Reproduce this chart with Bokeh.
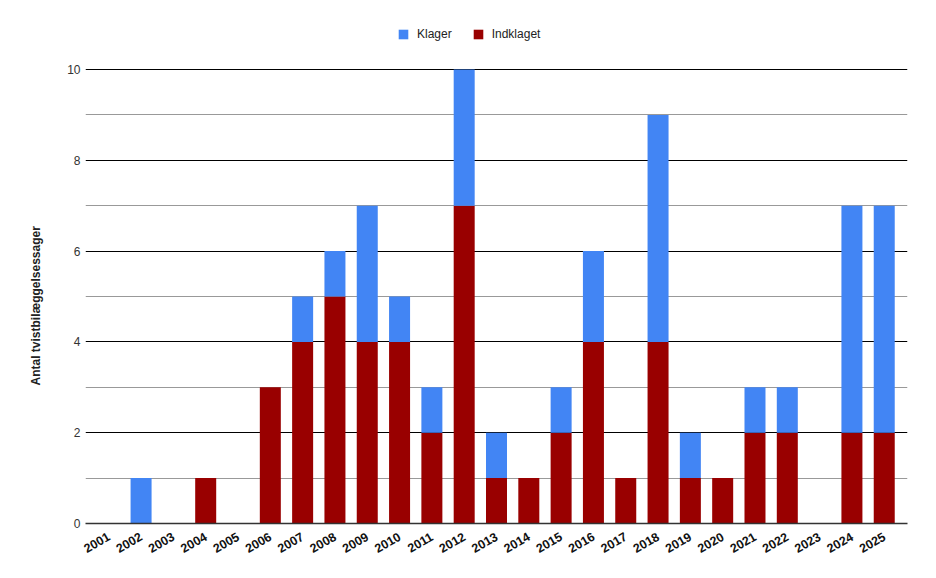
import math
from bokeh.plotting import figure
from bokeh.models import ColumnDataSource, FixedTicker, Grid, Legend, LegendItem, Range1d, Title
from bokeh.embed import file_html
from bokeh.resources import INLINE

years = [str(y) for y in range(2001, 2026)]
indklaget = [0, 0, 0, 1, 0, 3, 4, 5, 4, 4, 2, 7, 1, 1, 2, 4, 1, 4, 1, 1, 2, 2, 0, 2, 2]
klager = [0, 1, 0, 0, 0, 0, 1, 1, 3, 1, 1, 3, 1, 0, 1, 2, 0, 5, 1, 0, 1, 1, 0, 5, 5]
series = ["Indklaget", "Klager"]
colors = ["#990000", "#4285F4"]
y_major = [2, 4, 6, 8, 10]
y_minor = [1, 3, 5, 7, 9]

src = ColumnDataSource(dict(year=years, Indklaget=indklaget, Klager=klager))

# frame extends above the 10-line to leave room for the legend inside it
p = figure(x_range=years, y_range=Range1d(0, 11.08), width=936, height=578,
           output_backend="svg", toolbar_location=None,
           min_border_left=85, min_border_right=29, min_border_top=20, min_border_bottom=55)
p.outline_line_color = None
p.x_range.range_padding = 0.22
p.x_range.range_padding_units = "absolute"

r = p.vbar_stack(series, x="year", width=0.65, color=colors, line_color=None, source=src)

# axes
p.xaxis.major_label_orientation = math.pi / 6
p.xaxis.major_label_text_font = "Liberation Sans"
p.xaxis.major_label_text_font_style = "bold"
p.xaxis.major_label_text_font_size = "12.5px"
p.xaxis.major_label_text_color = "#111111"
p.xaxis.major_tick_line_color = None
p.xaxis.minor_tick_line_color = None
p.xaxis.axis_line_color = "#333333"
p.xaxis.axis_line_width = 1.5
p.xaxis.major_label_standoff = 6

p.yaxis.ticker = FixedTicker(ticks=[0] + y_major)
p.yaxis.axis_line_color = None
p.yaxis.major_tick_line_color = None
p.yaxis.minor_tick_line_color = None
p.yaxis.major_tick_out = 0
p.yaxis.minor_tick_out = 0
p.yaxis.major_label_text_font = "Liberation Sans"
p.yaxis.major_label_text_font_size = "12px"
p.yaxis.major_label_text_color = "#333333"
p.yaxis.major_label_standoff = 5

ytitle = Title(text="Antal tvistbilæggelsessager", align="left", offset=138,
               text_font="Liberation Sans", text_font_style="bold",
               text_font_size="12px", text_color="#222222", standoff=44)
p.add_layout(ytitle, "left")

p.xgrid.grid_line_color = None
p.ygrid.ticker = FixedTicker(ticks=y_major)
p.ygrid.grid_line_color = "#000000"
p.ygrid.grid_line_width = 1
minor = Grid(dimension=1, ticker=FixedTicker(ticks=y_minor), grid_line_color="#999999", grid_line_width=1)
p.add_layout(minor)

legend = Legend(items=[LegendItem(label="Klager", renderers=[r[1]]),
                       LegendItem(label="Indklaget", renderers=[r[0]])],
                orientation="horizontal", location=(312, 482),
                border_line_color=None, background_fill_alpha=0,
                label_text_font="Liberation Sans", label_text_font_size="12px",
                label_text_color="#222222", glyph_width=12, glyph_height=12,
                label_height=12,
                spacing=20, padding=0, margin=0, label_standoff=8)
p.add_layout(legend, "center")

open("out.html", "w").write(file_html(p, INLINE))
